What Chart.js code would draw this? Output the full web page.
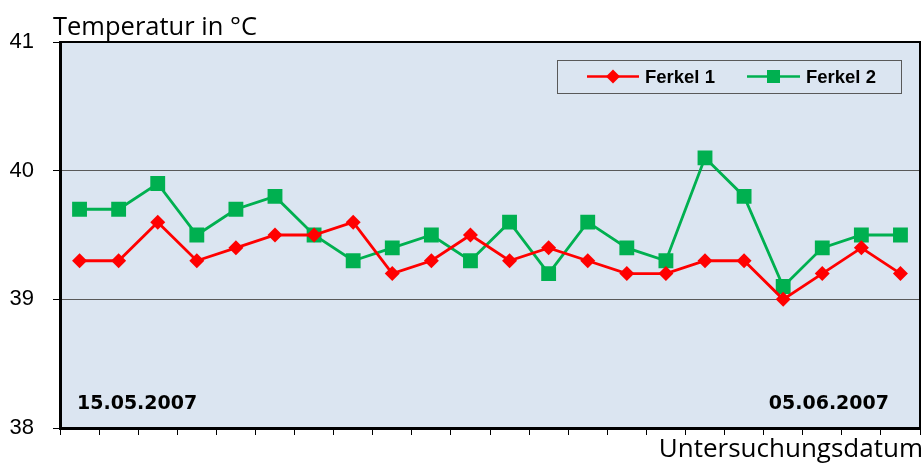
<!DOCTYPE html>
<html>
<head>
<meta charset="utf-8">
<script src="https://cdn.jsdelivr.net/npm/chart.js@4/dist/chart.umd.min.js"></script>
<style>
  html, body { margin: 0; padding: 0; background: #ffffff; }
  #wrap { width: 923px; height: 466px; position: relative; }
</style>
</head>
<body>
<div id="wrap"><canvas id="c"></canvas></div>
<script>
// Daily examination dates
const categories = [
  '15.05.2007', '16.05.2007', '17.05.2007', '18.05.2007', '19.05.2007', '20.05.2007',
  '21.05.2007', '22.05.2007', '23.05.2007', '24.05.2007', '25.05.2007', '26.05.2007',
  '27.05.2007', '28.05.2007', '29.05.2007', '30.05.2007', '31.05.2007', '01.06.2007',
  '02.06.2007', '03.06.2007', '04.06.2007', '05.06.2007'
];
// Body temperature in °C
const ferkel1 = [39.3, 39.3, 39.6, 39.3, 39.4, 39.5, 39.5, 39.6, 39.2, 39.3, 39.5,
                 39.3, 39.4, 39.3, 39.2, 39.2, 39.3, 39.3, 39.0, 39.2, 39.4, 39.2];
const ferkel2 = [39.7, 39.7, 39.9, 39.5, 39.7, 39.8, 39.5, 39.3, 39.4, 39.5, 39.3,
                 39.6, 39.2, 39.6, 39.4, 39.3, 40.1, 39.8, 39.1, 39.4, 39.5, 39.5];
const seriesNames = ['Ferkel 1', 'Ferkel 2'];
const yTicks = [38, 39, 40, 41];
const yTitle = 'Temperatur in °C';
const xTitle = 'Untersuchungsdatum';

const RED = '#FF0000';
const GREEN = '#00B050';
const PLOT_BG = '#DBE5F1';

// Plot background, frame, legend box and text labels
const decorations = {
  id: 'decorations',
  beforeDraw(chart) {
    const { ctx, chartArea: a } = chart;
    ctx.save();
    ctx.fillStyle = PLOT_BG;
    ctx.fillRect(a.left, a.top, a.right - a.left, a.bottom - a.top);
    ctx.restore();
  },
  afterDraw(chart) {
    const { ctx, chartArea: a } = chart;
    ctx.save();
    // top and right edges of the plot frame
    ctx.strokeStyle = '#000';
    ctx.lineWidth = 2;
    ctx.beginPath();
    ctx.moveTo(a.left, a.top);
    ctx.lineTo(a.right, a.top);
    ctx.lineTo(a.right, a.bottom);
    ctx.stroke();

    // axis titles
    ctx.fillStyle = '#000';
    ctx.textBaseline = 'alphabetic';
    ctx.font = '25.5px "Open Sans"';
    ctx.textAlign = 'left';
    ctx.fillText(yTitle, 53, 35);
    ctx.font = '26px "Open Sans"';
    ctx.textAlign = 'right';
    ctx.fillText(xTitle, 923, 457);

    // first and last date inside the plot
    ctx.font = 'bold 19px "DejaVu Sans"';
    ctx.textAlign = 'left';
    ctx.fillText(categories[0], 77, 409);
    ctx.textAlign = 'right';
    ctx.fillText(categories[categories.length - 1], 889, 409);

    // legend box
    const lx = 557, ly = 60, lw = 344, lh = 33;
    ctx.fillStyle = PLOT_BG;
    ctx.fillRect(lx, ly, lw, lh);
    ctx.strokeStyle = '#595959';
    ctx.lineWidth = 1;
    ctx.strokeRect(lx + 0.5, ly + 0.5, lw, lh);

    const cy = ly + lh / 2;
    const entries = [
      { x0: 587, x1: 639, tx: 645, ds: chart.data.datasets[0] },
      { x0: 747, x1: 800, tx: 806, ds: chart.data.datasets[1] }
    ];
    entries.forEach(e => {
      ctx.strokeStyle = e.ds.borderColor;
      ctx.lineWidth = 2.5;
      ctx.beginPath();
      ctx.moveTo(e.x0, cy);
      ctx.lineTo(e.x1, cy);
      ctx.stroke();
      ctx.fillStyle = e.ds.backgroundColor;
      ctx.beginPath();
      const mx = (e.x0 + e.x1) / 2;
      if (e.ds.pointStyle === 'rectRot') {
        const r = 7;
        ctx.moveTo(mx, cy - r); ctx.lineTo(mx + r, cy); ctx.lineTo(mx, cy + r); ctx.lineTo(mx - r, cy);
      } else {
        const h = 6.5;
        ctx.rect(mx - h, cy - h, 2 * h, 2 * h);
      }
      ctx.closePath();
      ctx.fill();
      ctx.fillStyle = '#000';
      ctx.font = 'bold 18.5px "Liberation Sans"';
      ctx.textAlign = 'left';
      ctx.textBaseline = 'middle';
      ctx.fillText(e.ds.label, e.tx, cy + 1);
    });
    ctx.restore();
  }
};

Chart.defaults.font.family = '"Liberation Sans", Arial, sans-serif';

new Chart(document.getElementById('c'), {
  type: 'line',
  data: {
    labels: categories,
    datasets: [
      {
        label: seriesNames[0],
        data: ferkel1,
        borderColor: RED,
        backgroundColor: RED,
        borderWidth: 2.8,
        pointStyle: 'rectRot',
        pointRadius: 7.5,
        pointHoverRadius: 7.5,
        pointBorderWidth: 0,
        tension: 0
      },
      {
        label: seriesNames[1],
        data: ferkel2,
        borderColor: GREEN,
        backgroundColor: GREEN,
        borderWidth: 2.8,
        pointStyle: 'rect',
        pointRadius: 10.5,
        pointHoverRadius: 10.5,
        pointBorderWidth: 0,
        tension: 0
      }
    ]
  },
  options: {
    responsive: true,
    maintainAspectRatio: false,
    animation: false,
    events: [],
    layout: { autoPadding: false, padding: { top: 42, right: 3, left: 0, bottom: 0 } },
    plugins: { legend: { display: false }, tooltip: { enabled: false }, title: { display: false } },
    scales: {
      x: {
        type: 'category',
        offset: true,
        afterFit(s) { s.height = 38; },
        grid: {
          offset: true,
          drawOnChartArea: false,
          drawTicks: true,
          tickLength: 7,
          tickColor: '#000',
          tickWidth: 1
        },
        border: { display: true, color: '#000', width: 3 },
        ticks: { display: false }
      },
      y: {
        min: yTicks[0],
        max: yTicks[yTicks.length - 1],
        afterFit(s) { s.width = 60; },
        afterBuildTicks(s) { s.ticks = yTicks.map(v => ({ value: v })); },
        grid: {
          color: '#595959',
          lineWidth: 1,
          tickLength: 7,
          tickColor: '#000'
        },
        border: { display: true, color: '#000', width: 3 },
        ticks: {
          color: '#000',
          padding: 19,
          font: { size: 22, family: '"Liberation Sans", Arial, sans-serif' }
        }
      }
    }
  },
  plugins: [decorations]
});
</script>
</body>
</html>
